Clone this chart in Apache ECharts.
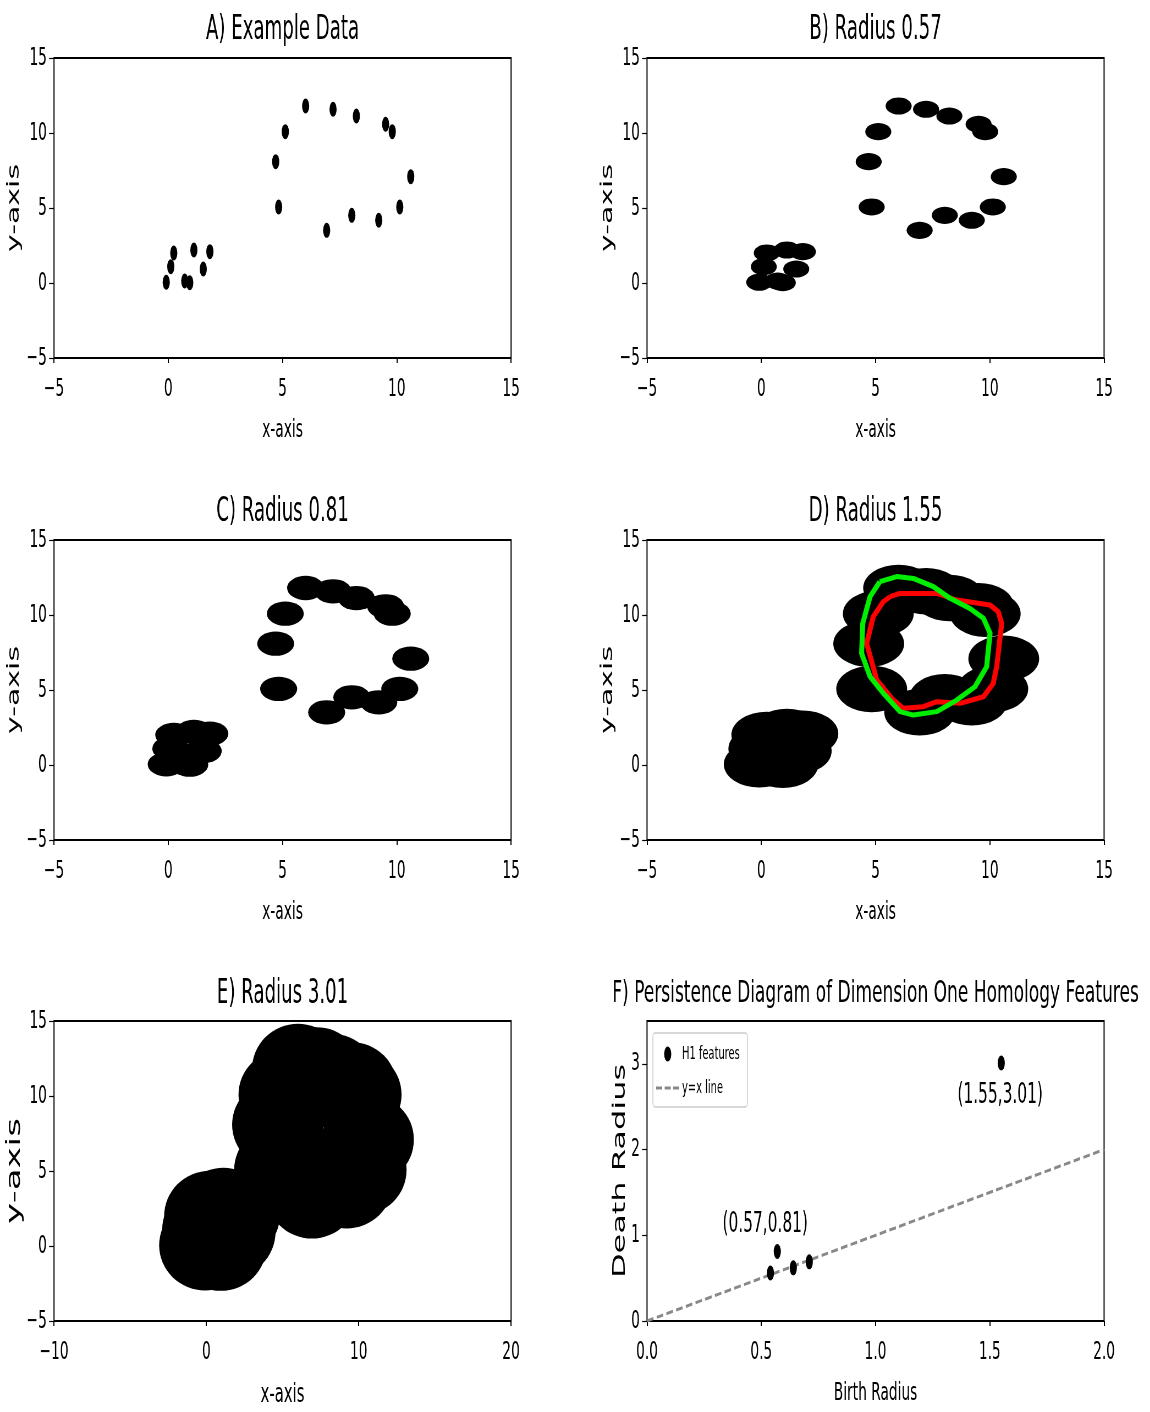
<!DOCTYPE html>
<html>
<head>
<meta charset="utf-8">
<script src="https://cdn.jsdelivr.net/npm/echarts@6/dist/echarts.min.js"></script>
<style>
  html, body { margin: 0; padding: 0; background: #fff; overflow: hidden; }
  #wrap { width: 1150px; height: 1412px; overflow: hidden; position: relative; }
  /* the figure is laid out wide and squeezed horizontally */
  #chart { width: 2091px; height: 1412px; transform: scaleX(0.55); transform-origin: 0 0; }
</style>
</head>
<body>
<div id="wrap"><div id="chart"></div></div>
<script>
// horizontal squeeze factor applied to the whole figure
const SX = 0.55;
const FONT = '"DejaVu Sans", sans-serif';

// sample point cloud: a ring of 13 points and a small cluster of 8
const pointsX = [6.01, 7.21, 8.23, 9.51, 9.80, 5.12, 4.70, 10.61, 4.83, 10.13, 8.03, 9.21, 6.93,
                 0.24, 1.12, 1.82, 0.11, 1.53, -0.09, 0.72, 0.94];
const pointsY = [11.80, 11.58, 11.13, 10.58, 10.09, 10.09, 8.09, 7.09, 5.07, 5.07, 4.51, 4.18, 3.51,
                 2.00, 2.20, 2.09, 1.09, 0.93, 0.05, 0.13, 0.02];

// ball radii shown in panels B..E
const radii = [0.57, 0.81, 1.55, 3.01];

const panelTitles = [
  'A) Example Data',
  'B) Radius 0.57',
  'C) Radius 0.81',
  'D) Radius 1.55',
  'E) Radius 3.01',
  'F) Persistence Diagram of Dimension One Homology Features'
];

// representative cycles of the large loop at radius 1.55
const loopRedX = [5.63, 6.07, 7.68, 8.55, 10.01, 10.37, 10.52, 10.30, 10.15, 9.72, 8.70, 7.68, 7.09, 6.21, 5.71, 5.05, 4.61, 4.90, 5.34];
const loopRedY = [11.22, 11.44, 11.44, 11.00, 10.67, 10.22, 9.44, 6.55, 5.44, 4.55, 4.11, 4.22, 3.89, 3.78, 4.44, 5.67, 8.11, 9.89, 10.89];
const loopGreenX = [5.19, 5.93, 6.65, 7.53, 8.26, 9.13, 9.72, 10.01, 9.86, 9.35, 8.55, 7.68, 6.65, 6.07, 5.34, 4.76, 4.39, 4.44, 4.76];
const loopGreenY = [12.22, 12.56, 12.44, 11.89, 11.11, 10.44, 9.78, 8.78, 6.55, 5.22, 4.33, 3.56, 3.33, 3.56, 4.78, 5.89, 7.44, 9.44, 11.22];

// H1 persistence pairs (birth, death)
const h1Birth = [0.54, 0.64, 0.71, 0.57, 1.55];
const h1Death = [0.56, 0.62, 0.69, 0.81, 3.01];
const h1Annotated = [3, 4];

// tick values
const xTicksAD = [-5, 0, 5, 10, 15];
const yTicksAE = [-5, 0, 5, 10, 15];
const xTicksE = [-10, 0, 10, 20];
const xTicksF = [0, 0.5, 1.0, 1.5, 2.0];
const yTicksF = [0, 1, 2, 3];

const ELLIPSE = 'path://M0,15A13,15 0 1,1 26,15A13,15 0 1,1 0,15Z';
const DASHES = 'path://M0,0h11v3h-11z M15.5,0h11v3h-11z M31,0h11v3h-11z';

const minusFmt = v => (v < 0 ? '\u2212' + Math.abs(v) : String(v));

// panel geometry (pre-squeeze pixels)
const colLeft = [98.2, 1176.4];
const rowTop = [58, 540, 1021];
const PW = 831, PH = 300;

const grids = [], xAxes = [], yAxes = [];
const yNameGap = [57, 56, 57, 56, 50, 33];
const yNameSize = [30, 30, 30, 30, 36, 32];
const xNameSize = [25, 25, 25, 25, 27, 25];
for (let i = 0; i < 6; i++) {
  const col = i % 2, row = Math.floor(i / 2);
  grids.push({
    left: colLeft[col], top: rowTop[row], width: PW, height: PH,
    show: true, borderColor: '#000', borderWidth: 2, backgroundColor: 'transparent',
    containLabel: false, outerBoundsMode: 'none'
  });
  let xr, yr, xTicks, yTicks, xFmt;
  if (i < 4) { xr = [-5, 15, 5]; xTicks = xTicksAD; xFmt = minusFmt; }
  else if (i === 4) { xr = [-10, 20, 10]; xTicks = xTicksE; xFmt = minusFmt; }
  else { xr = [0, 2, 0.5]; xTicks = xTicksF; xFmt = v => Number(v).toFixed(1); }
  if (i < 5) { yr = [-5, 15, 5]; yTicks = yTicksAE; }
  else { yr = [0, 3.5, 1]; yTicks = yTicksF; }
  xAxes.push({
    type: 'value', gridIndex: i, min: xr[0], max: xr[1], interval: xr[2], position: 'bottom',
    axisLine: { show: false, onZero: false },
    axisTick: { show: true, length: 5, lineStyle: { color: '#000', width: 2 }, customValues: xTicks },
    axisLabel: { color: '#000', fontSize: 25, fontFamily: FONT, margin: 19, formatter: xFmt, customValues: xTicks },
    splitLine: { show: false },
    name: i === 5 ? 'Birth Radius' : 'x-axis', nameLocation: 'middle', nameGap: 60,
    nameTextStyle: { color: '#000', fontSize: xNameSize[i], fontFamily: FONT }
  });
  yAxes.push({
    type: 'value', gridIndex: i, min: yr[0], max: yr[1], interval: yr[2], position: 'left',
    axisLine: { show: false, onZero: false },
    axisTick: { show: true, length: 9, lineStyle: { color: '#000', width: 1.2 }, customValues: yTicks },
    axisLabel: { color: '#000', fontSize: 25, fontFamily: FONT, margin: 13, formatter: minusFmt, customValues: yTicks },
    splitLine: { show: false },
    name: i === 5 ? 'Death Radius' : 'y-axis', nameLocation: 'middle', nameRotate: 90, nameGap: yNameGap[i],
    nameTextStyle: { color: '#000', fontSize: yNameSize[i], fontFamily: FONT }
  });
}

const cloud = pointsX.map((x, k) => [x, pointsY[k]]);

const series = [];
// A) raw points
series.push({
  type: 'scatter', xAxisIndex: 0, yAxisIndex: 0, data: cloud,
  symbol: ELLIPSE, symbolSize: [13, 15], itemStyle: { color: '#000', opacity: 1 }, silent: true
});
// B..E) union of balls of a given radius around every point
radii.forEach((r, k) => {
  series.push({
    type: 'custom', xAxisIndex: k + 1, yAxisIndex: k + 1, data: cloud,
    encode: { x: 0, y: 1 }, silent: true,
    renderItem: (params, api) => {
      const c = api.coord([api.value(0), api.value(1)]);
      const s = api.size([r, r]);
      return {
        type: 'circle', x: c[0], y: c[1], scaleX: s[0] / s[1],
        shape: { cx: 0, cy: 0, r: s[1] },
        style: { fill: '#000' }
      };
    }
  });
});
// D) cycles drawn with an even stroke after the squeeze
function loopSeries(xs, ys, color) {
  const pts = xs.map((x, k) => [x, ys[k]]);
  return {
    type: 'custom', xAxisIndex: 3, yAxisIndex: 3, data: pts, encode: { x: 0, y: 1 },
    silent: true, z: 5,
    renderItem: (params, api) => {
      if (params.dataIndex !== 0) return null;
      const px = pts.map(p => api.coord(p));
      px.push(px[0]);
      return {
        type: 'group', scaleX: 1 / SX,
        children: [{
          type: 'polyline',
          shape: { points: px.map(q => [q[0] * SX, q[1]]) },
          style: { stroke: color, lineWidth: 5, fill: 'none', lineJoin: 'round' }
        }]
      };
    }
  };
}
series.push(loopSeries(loopRedX, loopRedY, '#ff0000'));
series.push(loopSeries(loopGreenX, loopGreenY, '#00ee00'));

// F) persistence diagram
const h1Data = h1Birth.map((b, k) => {
  const item = { value: [b, h1Death[k]] };
  if (h1Annotated.includes(k)) {
    const above = h1Death[k] < 2;
    item.label = {
      show: true, position: above ? 'top' : 'bottom', distance: above ? 5 : 11,
      offset: above ? [-22, 0] : [-2, 0]
    };
  }
  return item;
});
series.push({
  name: 'y=x line', type: 'line', xAxisIndex: 5, yAxisIndex: 5,
  data: [[0, 0], [2, 2]], symbol: 'none', z: 1, silent: true,
  itemStyle: { color: '#888' },
  lineStyle: { color: '#888', width: 3, type: [12, 6] }
});
series.push({
  name: 'H1 features', type: 'scatter', xAxisIndex: 5, yAxisIndex: 5, z: 3,
  data: h1Data, symbol: ELLIPSE, symbolSize: [13, 15], itemStyle: { color: '#000', opacity: 1 }, silent: true,
  label: {
    show: false, color: '#000', fontSize: 28, fontFamily: FONT,
    formatter: p => '(' + p.value[0].toFixed(2) + ',' + p.value[1].toFixed(2) + ')'
  }
});

// panel titles
const titleY = [30, 30, 512, 512, 994, 994];
const titleSize = [33, 33, 33, 33, 33, 31];
const graphics = panelTitles.map((t, i) => ({
  type: 'text',
  x: colLeft[i % 2] + PW / 2, y: titleY[i],
  style: {
    text: t, font: titleSize[i] + 'px ' + FONT, fill: '#000',
    align: 'center', verticalAlign: 'middle', textAlign: 'center', textVerticalAlign: 'middle'
  }
}));

const chart = echarts.init(document.getElementById('chart'), null, { renderer: 'canvas', width: 2091, height: 1412 });
chart.setOption({
  animation: false,
  backgroundColor: '#fff',
  textStyle: { fontFamily: FONT },
  grid: grids,
  xAxis: xAxes,
  yAxis: yAxes,
  legend: {
    show: true, orient: 'vertical', left: 1187, top: 1033,
    data: [{ name: 'H1 features', icon: ELLIPSE }, { name: 'y=x line', icon: DASHES }],
    itemWidth: 42, itemHeight: 15, itemGap: 16,
    textStyle: { color: '#000', fontSize: 18, fontFamily: FONT },
    borderColor: '#ccc', borderWidth: 1.5, borderRadius: 4,
    padding: [12, 14, 10, 6], backgroundColor: 'rgba(255,255,255,0.8)'
  },
  graphic: graphics,
  series: series
});
</script>
</body>
</html>
